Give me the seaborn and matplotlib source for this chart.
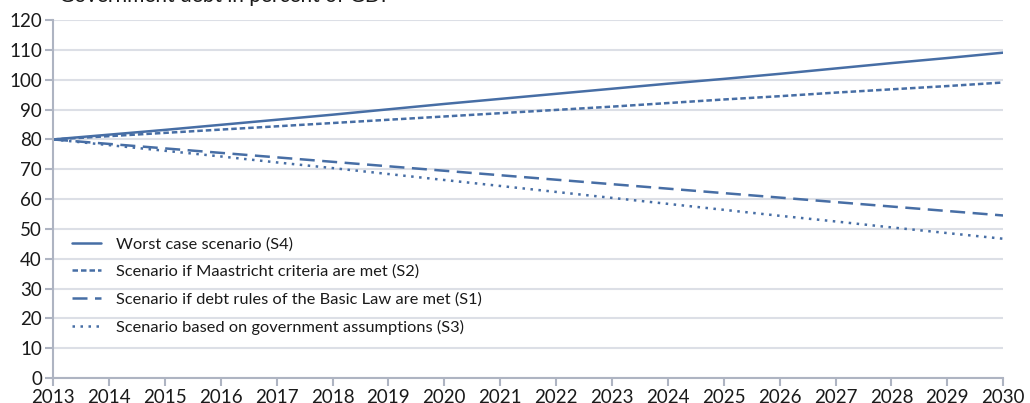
import matplotlib
matplotlib.use("Agg")
import matplotlib.pyplot as plt
import seaborn as sns
import pandas as pd

years = list(range(2013, 2031))
s4_worst = [80.0, 81.6, 83.2, 84.9, 86.6, 88.3, 90.1, 91.9, 93.6, 95.3, 97.0, 98.7, 100.3, 102.0, 103.8, 105.6, 107.3, 109.1]
s2_maastricht = [80.0, 81.1, 82.2, 83.3, 84.4, 85.5, 86.6, 87.7, 88.8, 89.9, 91.0, 92.2, 93.4, 94.5, 95.7, 96.8, 97.9, 99.1]
s1_basic_law = [80.0, 78.5, 77.0, 75.5, 74.0, 72.5, 71.0, 69.5, 68.0, 66.5, 65.0, 63.5, 62.0, 60.5, 59.0, 57.5, 56.0, 54.5]
s3_government = [80.0, 78.1, 76.2, 74.3, 72.3, 70.4, 68.4, 66.4, 64.4, 62.4, 60.4, 58.4, 56.4, 54.4, 52.5, 50.5, 48.6, 46.7]

labels = [
    "Worst case scenario (S4)",
    "Scenario if Maastricht criteria are met (S2)",
    "Scenario if debt rules of the Basic Law are met (S1)",
    "Scenario based on government assumptions (S3)",
]
series = [s4_worst, s2_maastricht, s1_basic_law, s3_government]
title = "Government debt in percent of GDP"

rows = []
for lab, vals in zip(labels, series):
    for y, v in zip(years, vals):
        rows.append({"year": y, "value": v, "scenario": lab})
df = pd.DataFrame(rows)

sns.set_style("white")
plt.rcParams["font.family"] = ["Lato", "DejaVu Sans"]

color = "#476ea5"
fig = plt.figure(figsize=(10.30, 4.03), dpi=100)
ax = fig.add_axes([0.0515, 0.062, 0.9225, 0.888])

dashes = {
    labels[0]: "",
    labels[1]: (2.2, 1.2),
    labels[2]: (6, 3),
    labels[3]: (1, 2.2),
}
sns.lineplot(data=df, x="year", y="value", hue="scenario", style="scenario",
             palette=[color] * 4, dashes=dashes, linewidth=1.8, ax=ax,
             hue_order=labels, style_order=labels)

ax.set_xlim(2013, 2030)
ax.set_ylim(0, 120)
ax.set_xticks(years)
ax.set_yticks(range(0, 121, 10))
ax.set_xlabel("")
ax.set_ylabel("")
ax.yaxis.grid(True, color="#dcdfe6", linewidth=1.5)
ax.set_axisbelow(True)
for s in ["top", "right"]:
    ax.spines[s].set_visible(False)
for s in ["left", "bottom"]:
    ax.spines[s].set_color("#aeb4c2")
    ax.spines[s].set_linewidth(1.5)
ax.tick_params(axis="both", which="both", length=6, width=1.5, color="#aeb4c2",
               labelsize=13.5, labelcolor="#1a1a1a", pad=2, direction="out")
ax.tick_params(left=True, bottom=True)

leg = ax.legend(loc="upper left", bbox_to_anchor=(0.02, 0.394), frameon=False,
                fontsize=11.8, handlelength=1.75, handletextpad=0.95, labelspacing=0.8,
                borderpad=0, borderaxespad=0)
for t in leg.get_texts():
    t.set_color("#1a1a1a")

fig.text(0.057, 0.995, title, fontsize=15, color="#1a1a1a", va="baseline", ha="left")

fig.savefig("out.png", dpi=100)
